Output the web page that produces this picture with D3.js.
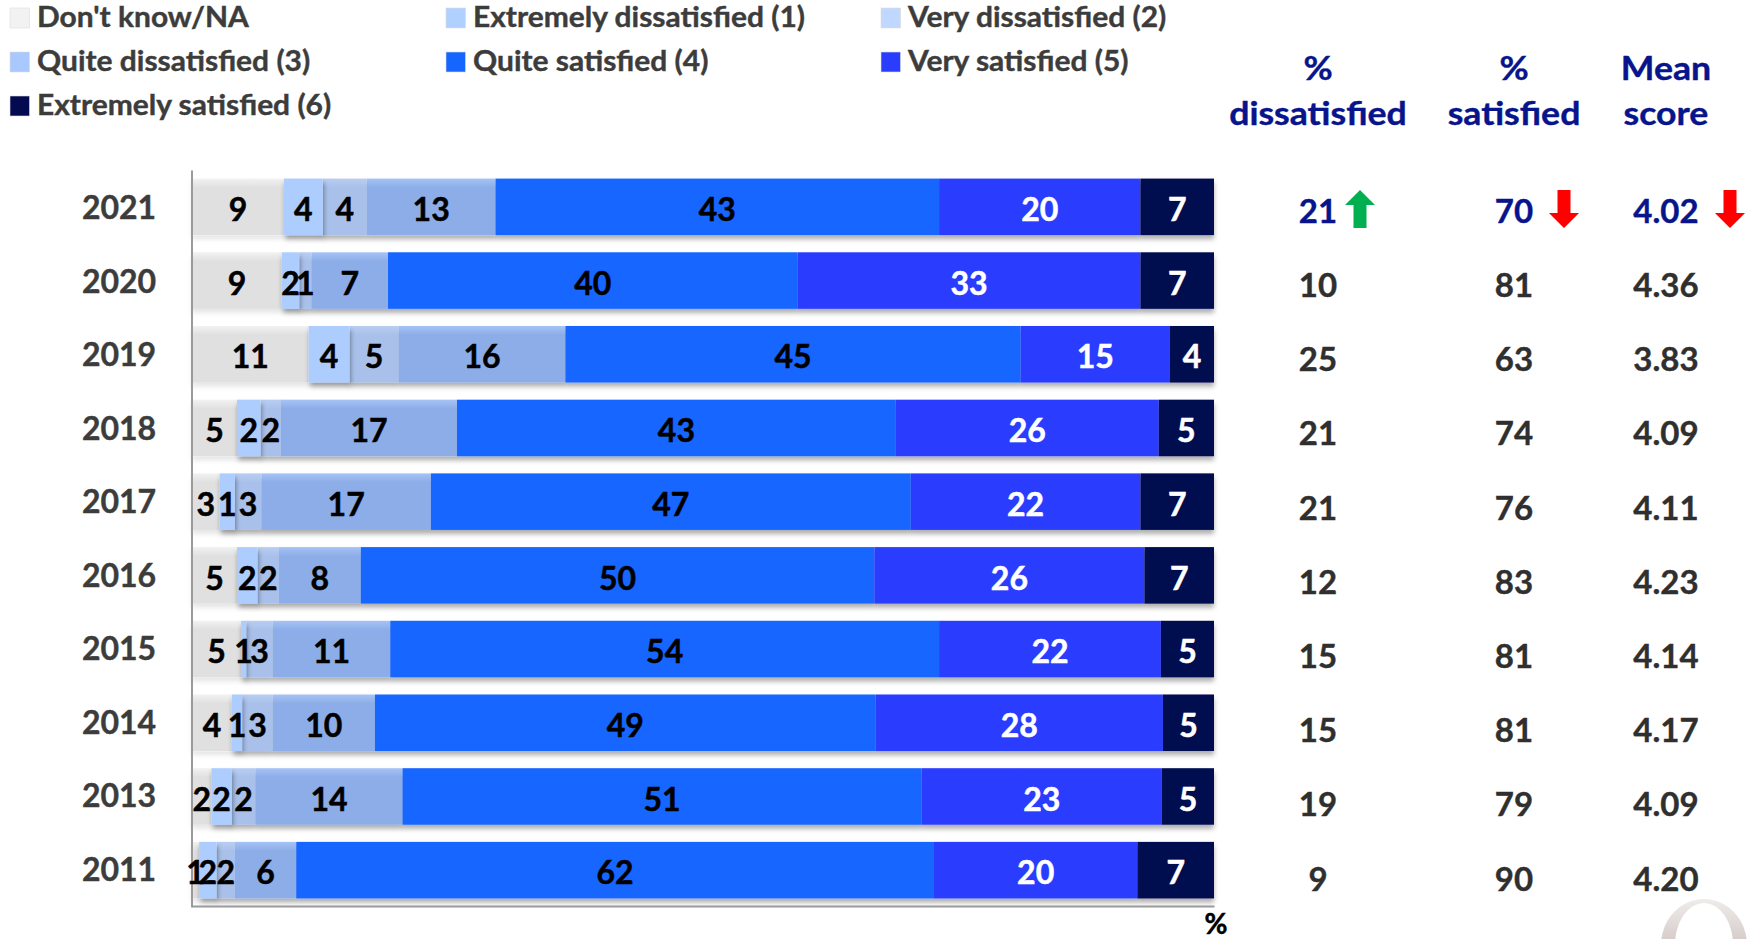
<!DOCTYPE html>
<html><head><meta charset="utf-8">
<script src="https://cdn.jsdelivr.net/npm/d3@7"></script>
<style>html,body{margin:0;padding:0;background:#fff;overflow:hidden}svg{display:block;font-family:Lato,Carlito,sans-serif;font-weight:700}</style>
</head><body><div id="c"></div>
<script>
const years=["2021","2020","2019","2018","2017","2016","2015","2014","2013","2011"];
const seriesNames=["Don't know/NA","Extremely dissatisfied (1)","Very dissatisfied (2)","Quite dissatisfied (3)","Quite satisfied (4)","Very satisfied (5)","Extremely satisfied (6)"];
const dontKnow=[9.0,8.8,11.4,4.4,2.7,4.4,4.8,3.9,1.9,0.7];
const extDis=[3.8,1.7,4.0,2.3,1.5,2.0,0.5,1.0,2.0,1.7];
const veryDis=[4.3,1.2,4.8,2.0,2.6,2.1,2.6,3.0,2.3,1.8];
const quiteDis=[12.6,7.5,16.3,17.2,16.6,8.0,11.5,10.0,14.4,6.0];
const quiteSat=[43.4,40.1,44.5,42.9,47.0,50.2,53.7,49.0,50.8,62.4];
const verySat=[19.7,33.6,14.6,25.7,22.5,26.4,21.7,28.1,23.5,19.9];
const extSat=[7.2,7.2,4.3,5.4,7.2,6.8,5.2,5.0,5.1,7.5];
const labelDontKnow=[9,9,11,5,3,5,5,4,2,1];
const labelExtDis=[4,2,4,2,1,2,1,1,2,2];
const labelVeryDis=[4,1,5,2,3,2,3,3,2,2];
const labelQuiteDis=[13,7,16,17,17,8,11,10,14,6];
const labelQuiteSat=[43,40,45,43,47,50,54,49,51,62];
const labelVerySat=[20,33,15,26,22,26,22,28,23,20];
const labelExtSat=[7,7,4,5,7,7,5,5,5,7];
const pctDissatisfied=[21,10,25,21,21,12,15,15,19,9];
const pctSatisfied=[70,81,63,74,76,83,81,81,79,90];
const meanScore=[4.02,4.36,3.83,4.09,4.11,4.23,4.14,4.17,4.09,4.20];
const headers=[["%","dissatisfied"],["%","satisfied"],["Mean","score"]];
const latestChange=[1,-1,-1];

const seriesValues=[dontKnow,extDis,veryDis,quiteDis,quiteSat,verySat,extSat];
const seriesLabels=[labelDontKnow,labelExtDis,labelVeryDis,labelQuiteDis,labelQuiteSat,labelVerySat,labelExtSat];
const rows=years.map((y,i)=>{const r={year:y};seriesNames.forEach((n,k)=>r[n]=seriesValues[k][i]);return r;});

const svg=d3.select("#c").append("svg").attr("width",1755).attr("height",939);
const defs=svg.append("defs");
function addShadow(id,dx,op){
  const f=defs.append("filter").attr("id",id).attr("x","-30%").attr("y","-10%").attr("width","160%").attr("height","125%");
  f.append("feDropShadow").attr("dx",dx).attr("dy",4).attr("stdDeviation",2.5).attr("flood-color","#000").attr("flood-opacity",op);
}
addShadow("sh",0,.32);addShadow("shf",0,.1);addShadow("shr",1,.4);

const barTop=["#f2f2f2","#aecdff","#b9cdf2","#a6c3f6","#1566ff","#2a3dff","#040a50"];
const barFill=["#e0e0e0","#aecdff","#a9c1ea","#8dade8","#1566ff","#2a3dff","#040a50"];
const legendFill=["#f2f2f2","#b0d0ff","#c0d8ff","#a8c8ff","#1566ff","#2a3dff","#040a50"];
const labelFill=["#000","#000","#000","#000","#000","#fff","#fff"];
seriesNames.forEach((n,k)=>{
  const g=defs.append("linearGradient").attr("id","g"+k).attr("x1",0).attr("x2",0).attr("y1",0).attr("y2",1);
  g.append("stop").attr("offset",0).attr("stop-color",barTop[k]);
  g.append("stop").attr("offset",.16).attr("stop-color",barFill[k]);
  g.append("stop").attr("offset",1).attr("stop-color",barFill[k]);
});

const x=d3.scaleLinear().domain([0,1]).range([192,1214]);
const y=d3.scaleBand().domain(years).range([170,907]).paddingInner(.233).paddingOuter(.1165);
const stacked=d3.stack().keys(seriesNames).offset(d3.stackOffsetExpand)(rows);
const heavy=(sel,c,w)=>sel.attr("stroke",c).attr("stroke-width",w).attr("paint-order","stroke");

// legend
const legendCols=[10,446,881], legendRows=[8,52,96];
const leg=svg.append("g").selectAll("g").data(seriesNames).join("g")
  .attr("transform",(d,i)=>`translate(${legendCols[i%3]},${legendRows[Math.floor(i/3)]})`);
leg.append("rect").attr("width",19.5).attr("height",20).attr("fill",(d,i)=>legendFill[i]).attr("stroke","#ddd").attr("stroke-width",.6);
leg.append("text").attr("transform","translate(27,19) scale(1.07,1)").attr("font-size",28).attr("fill","#3c3c3c").call(heavy,"#3c3c3c",.4).text(d=>d);

// bars: faint shadow under grey, shared shadow under the rest, raised segment last
const barsG=svg.append("g");
const drawSeries=(parent,k,filter)=>{
  const g=parent.append("g");
  if(filter) g.attr("filter",filter);
  g.selectAll("rect").data(stacked[k]).join("rect")
    .attr("x",d=>x(d[0])).attr("width",d=>x(d[1])-x(d[0]))
    .attr("y",d=>y(d.data.year)).attr("height",y.bandwidth())
    .attr("fill",`url(#g${k})`);
};
drawSeries(barsG,0,"url(#shf)");
const mainBars=barsG.append("g").attr("filter","url(#sh)");
[2,3,4,5,6].forEach(k=>drawSeries(mainBars,k,null));
drawSeries(barsG,1,"url(#shr)");

// axis lines
const yAxis=d3.axisLeft(y).tickSize(0).tickFormat("");
svg.append("g").attr("transform","translate(191.5,0)").call(yAxis).call(g=>g.select(".domain").attr("stroke","#9a9a9a").attr("stroke-width",2));
const xAxis=d3.axisBottom(x).tickValues([]).tickSize(0);
svg.append("g").attr("transform","translate(0,906)").call(xAxis).call(g=>g.select(".domain").attr("stroke","#9a9a9a").attr("stroke-width",2));

// bar labels
stacked.forEach((s,k)=>{
  svg.append("g").selectAll("text").data(s).join("text")
    .attr("x",d=>(x(d[0])+x(d[1]))/2).attr("y",d=>y(d.data.year)+42.5)
    .attr("text-anchor","middle").attr("font-size",32).attr("fill",labelFill[k]).call(heavy,labelFill[k],.5)
    .text((d,i)=>seriesLabels[k][i]);
});

// year labels
const yearY=d3.scalePoint().domain(years).range([219,219+9*73.5]);
svg.append("g").selectAll("text").data(years).join("text")
  .attr("x",119).attr("y",d=>yearY(d)).attr("text-anchor","middle")
  .attr("font-size",32).attr("fill","#3c3c3c").call(heavy,"#3c3c3c",.4).text(d=>d);

// side table
const colX=[1318,1514,1666];
const tableY=d3.scalePoint().domain(years).range([222.7,222.7+9*74.2]);
const navy="#07148c";
headers.forEach((h,c)=>{
  h.forEach((t,l)=>svg.append("text").attr("transform",`translate(${colX[c]},${l?125:80}) scale(1.08,1)`).attr("text-anchor","middle")
    .attr("font-size",33).attr("fill",navy).call(heavy,navy,.4).text(t));
});
[pctDissatisfied,pctSatisfied,meanScore.map(d3.format(".2f"))].forEach((col,c)=>{
  svg.append("g").selectAll("text").data(col).join("text")
    .attr("x",colX[c]).attr("y",(d,i)=>tableY(years[i])).attr("text-anchor","middle")
    .attr("font-size",33).attr("fill",(d,i)=>i===0?navy:"#2f2f2f").each(function(d,i){heavy(d3.select(this),i===0?navy:"#2f2f2f",.4);}).text(d=>d);
});

// change arrows for the latest year
const arrowX=[1360,1564,1730];
latestChange.forEach((dir,c)=>{
  const up=dir>0;
  svg.append("path").attr("transform",`translate(${arrowX[c]},209) scale(1,${up?-1:1})`)
    .attr("d","M-6.5,-19V4H-15L0,19L15,4H6.5V-19Z").attr("fill",up?"#00b050":"#ff0000");
});

// % marker
svg.append("text").attr("x",1216).attr("y",933.5).attr("text-anchor","middle").attr("font-size",28).attr("fill","#000").call(heavy,"#000",.5).text("%");

// watermark fragment
const wm=defs.append("linearGradient").attr("id","wm").attr("x1",0).attr("x2",0).attr("y1",0).attr("y2",1);
wm.append("stop").attr("offset",0).attr("stop-color","#efecea");
wm.append("stop").attr("offset",1).attr("stop-color","#d4c9c7");
svg.append("path").attr("fill","url(#wm)").attr("fill-rule","evenodd")
  .attr("d","M1661,945A43,46 0 0 1 1747,945ZM1675,945A29,42 0 0 1 1733,945Z");
</script></body></html>
